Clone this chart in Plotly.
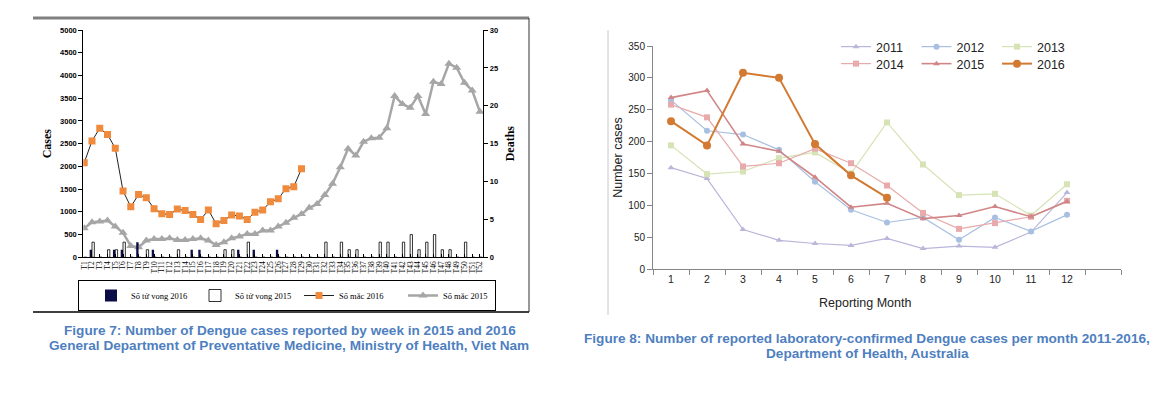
import plotly.graph_objects as go

# ---- Figure 7 (Viet Nam, weekly) ----
weeks = list(range(1, 53))
week_labels = ["T" + str(w) for w in weeks]

cases_2016 = [2080, 2560, 2840, 2700, 2400, 1460, 1110, 1380, 1310, 1070,
              960, 940, 1060, 1030, 940, 830, 1040, 740, 810, 930,
              910, 830, 990, 1040, 1220, 1290, 1510, 1550, 1950]

cases_2015 = [640, 770, 790, 810, 680, 540, 250, 220, 370, 400,
              400, 420, 380, 380, 400, 420, 370, 270, 330, 420,
              460, 510, 510, 590, 590, 680, 760, 870, 950, 1090,
              1170, 1370, 1620, 1980, 2390, 2240, 2540, 2620, 2630, 2840,
              3550, 3370, 3290, 3550, 3150, 3860, 3810, 4260, 4170, 3840,
              3670, 3200]

deaths_2016 = [0, 1, 0, 0, 1, 1, 0, 2, 0, 1,
               0, 0, 0, 0, 1, 1, 0, 0, 0, 0,
               1, 0, 1, 0, 0, 1, 0, 0, 0, 0,
               0, 0, 0, 0, 0, 0, 0, 0, 0, 0,
               0, 0, 0, 0, 0, 0, 0, 0, 0, 0,
               0, 0]

deaths_2015 = [0, 2, 0, 1, 1, 2, 0, 0, 1, 0,
               0, 0, 1, 0, 0, 0, 0, 0, 1, 1,
               0, 2, 0, 0, 0, 0, 0, 0, 0, 0,
               0, 2, 0, 2, 1, 1, 0, 0, 2, 2,
               0, 2, 3, 1, 2, 3, 1, 1, 0, 2,
               0, 0]

# ---- Figure 8 (Australia, monthly) ----
months = list(range(1, 13))
au_cases = {
    "2011": [159, 142, 62, 45, 40, 37, 48, 32, 36, 34, 58, 120],
    "2012": [265, 217, 211, 187, 137, 93, 73, 81, 46, 81, 59, 85],
    "2013": [194, 149, 153, 174, 183, 150, 230, 164, 116, 118, 84, 133],
    "2014": [258, 238, 161, 166, 189, 166, 131, 88, 63, 72, 82, 107],
    "2015": [269, 280, 196, 185, 144, 97, 103, 79, 84, 98, 82, 106],
    "2016": [232, 194, 308, 300, 196, 147, 112],
}

# the page body keeps an 8px margin, so the figure is drawn 8px in
OFF = 8
W, H = 1158 - OFF, 404 - OFF


def px(x):
    return (x - OFF) / W


def py(y):
    return 1 - (y - OFF) / H


serif = "Liberation Serif"
sans = "Liberation Sans"
caption_blue = "#4f7fbf"

fig = go.Figure()

# left chart: bars (deaths) on right axis, lines (cases) on left axis
fig.add_trace(go.Bar(x=weeks, y=deaths_2016, name="Số tử vong 2016",
                     marker=dict(color="#0b0b45", line=dict(width=0)),
                     xaxis="x", yaxis="y2", legend="legend"))
fig.add_trace(go.Bar(x=weeks, y=deaths_2015, name="Số tử vong 2015",
                     marker=dict(color="white", line=dict(color="black", width=0.8)),
                     xaxis="x", yaxis="y2", legend="legend"))
fig.add_trace(go.Scatter(x=weeks[:len(cases_2016)], y=cases_2016, name="Số mắc 2016",
                         mode="lines+markers",
                         line=dict(color="#222222", width=1),
                         marker=dict(symbol="square", size=7, color="#f08a3c"),
                         xaxis="x", yaxis="y", legend="legend"))
fig.add_trace(go.Scatter(x=weeks, y=cases_2015, name="Số mắc 2015",
                         mode="lines+markers",
                         line=dict(color="#a6a6a6", width=2.5),
                         marker=dict(symbol="triangle-up", size=8, color="#a6a6a6"),
                         xaxis="x", yaxis="y", legend="legend"))

# right chart
styles = {
    "2011": ("#b9b6da", "triangle-up", 6, 1.2, "legend2"),
    "2012": ("#a9bfe2", "circle", 6, 1.2, "legend2"),
    "2013": ("#d6e3b5", "square", 6, 1.2, "legend2"),
    "2014": ("#e8aaaa", "square", 6, 1.2, "legend3"),
    "2015": ("#d08686", "triangle-up", 6, 1.6, "legend3"),
    "2016": ("#d27a32", "circle", 8, 2.0, "legend3"),
}
for year, vals in au_cases.items():
    color, sym, size, lw, leg = styles[year]
    fig.add_trace(go.Scatter(x=months[:len(vals)], y=vals, name=year,
                             mode="lines+markers",
                             line=dict(color=color, width=lw),
                             marker=dict(symbol=sym, size=size, color=color),
                             xaxis="x2", yaxis="y3", legend=leg))

tick_font_l = dict(family=sans, size=7.5, color="black", weight="bold")

fig.update_layout(
    width=W, height=H,
    template="none",
    margin=dict(l=0, r=0, t=0, b=0),
    paper_bgcolor="white", plot_bgcolor="white",
    barmode="group", bargap=0.4, bargroupgap=0,
    xaxis=dict(domain=[px(83.3), px(483.3)], range=[0.88, 52.43],
               anchor="y", tickmode="array", tickvals=weeks, ticktext=week_labels,
               tickangle=-90, tickfont=dict(family=serif, size=7.5, color="black"),
               ticks="inside", ticklen=3, tickcolor="black",
               showline=True, linecolor="black", linewidth=1,
               showgrid=False, zeroline=False, automargin=False),
    yaxis=dict(domain=[py(257.3), py(30)], range=[0, 5000], dtick=500,
               anchor="x", tickfont=tick_font_l, ticks="outside", ticklen=4,
               tickcolor="black", showline=True, linecolor="black", linewidth=1,
               showgrid=False, zeroline=False, automargin=False,
               title=dict(text="Cases", font=dict(family=serif, size=12, color="black",
                                                  weight="bold"), standoff=5)),
    yaxis2=dict(overlaying="y", side="right", anchor="x", range=[0, 30], dtick=5,
                tickfont=tick_font_l, ticks="outside", ticklen=4, tickcolor="black",
                showline=True, linecolor="black", linewidth=1,
                showgrid=False, zeroline=False, automargin=False,
                title=dict(text="Deaths", font=dict(family=serif, size=12, color="black",
                                                    weight="bold"), standoff=8)),
    xaxis2=dict(domain=[px(653), px(1121)], range=[0.5, 13.5], anchor="y3",
                tickmode="array", tickvals=months, ticks="",
                minor=dict(tickmode="array", tickvals=[m - 0.5 for m in range(1, 15)],
                           ticks="outside", ticklen=5, tickcolor="#868686"),
                tickfont=dict(family=sans, size=10.5, color="#222222"),
                showline=True, linecolor="#868686", linewidth=1,
                showgrid=False, zeroline=False, automargin=False),
    yaxis3=dict(domain=[py(269), py(46)], range=[0, 350], dtick=50, anchor="x2",
                tickfont=dict(family=sans, size=10, color="#222222"),
                ticks="outside", ticklen=5, tickcolor="#868686",
                showline=True, linecolor="#868686", linewidth=1,
                showgrid=False, zeroline=False, automargin=False,
                title=dict(text="Number cases", font=dict(family=sans, size=12.5,
                                                          color="#222222"), standoff=2)),
    legend=dict(orientation="h", x=px(78), y=py(280), xanchor="left", yanchor="top",
                bordercolor="black", borderwidth=1, bgcolor="white",
                font=dict(family=serif, size=8.5, color="black"),
                entrywidth=47, entrywidthmode="pixels", indentation=12,
                traceorder="normal", itemwidth=30),
    legend2=dict(orientation="h", x=px(836), y=py(32), xanchor="left", yanchor="top",
                 bgcolor="rgba(0,0,0,0)", font=dict(family=sans, size=12.5, color="#222222"),
                 entrywidth=35.5, entrywidthmode="pixels", traceorder="normal"),
    legend3=dict(orientation="h", x=px(836), y=py(49), xanchor="left", yanchor="top",
                 bgcolor="rgba(0,0,0,0)", font=dict(family=sans, size=12.5, color="#222222"),
                 entrywidth=35.5, entrywidthmode="pixels", traceorder="normal"),
)

# frames around the two source pictures
fig.add_shape(type="line", xref="paper", yref="paper", x0=px(33), x1=px(529),
              y0=py(18), y1=py(18), line=dict(color="#808080", width=3))
fig.add_shape(type="line", xref="paper", yref="paper", x0=px(529), x1=px(529),
              y0=py(18), y1=py(312), line=dict(color="#333333", width=1))
fig.add_shape(type="line", xref="paper", yref="paper", x0=px(33), x1=px(529),
              y0=py(312), y1=py(312), line=dict(color="black", width=1.5))
fig.add_shape(type="line", xref="paper", yref="paper", x0=px(608), x1=px(608),
              y0=py(30), y1=py(315), line=dict(color="#c8c8c8", width=1))

# x title of the right chart and captions
fig.add_annotation(text="Reporting Month", xref="paper", yref="paper",
                   x=px(865), y=py(303), xanchor="center", yanchor="middle",
                   showarrow=False, font=dict(family=sans, size=12.5, color="#222222"))
captions = [
    ("Figure 7: Number of Dengue cases reported by week in 2015 and 2016", 290, 330),
    ("General Department of Preventative Medicine, Ministry of Health, Viet Nam", 289, 345),
    ("Figure 8: Number of reported laboratory-confirmed Dengue cases per month 2011-2016,", 867, 338),
    ("Department of Health, Australia", 867, 353),
]
for text, cx, cy in captions:
    fig.add_annotation(text=text, xref="paper", yref="paper", x=px(cx), y=py(cy),
                       xanchor="center", yanchor="middle", showarrow=False,
                       font=dict(family=sans, size=13.6, color=caption_blue, weight="bold"))

fig.write_html("out.html")
